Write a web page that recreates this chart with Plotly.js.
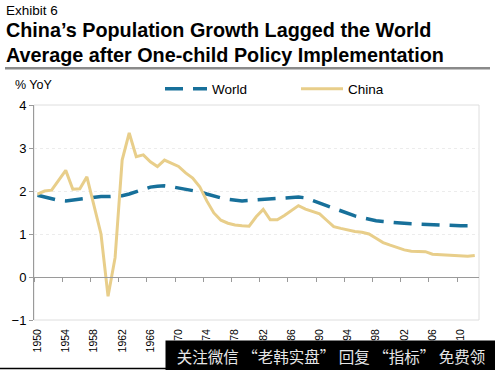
<!DOCTYPE html>
<html>
<head>
<meta charset="utf-8">
<script src="https://cdn.plot.ly/plotly-3.0.1.min.js"></script>
<style>
html,body{margin:0;padding:0;background:#fff;}
#chart{width:495px;height:370px;}
</style>
</head>
<body>
<div id="chart"></div>
<script>
var years = [1950,1951,1952,1953,1954,1955,1956,1957,1958,1959,
             1960,1961,1962,1963,1964,1965,1966,1967,1968,1969,
             1970,1971,1972,1973,1974,1975,1976,1977,1978,1979,
             1980,1981,1982,1983,1984,1985,1986,1987,1988,1989,
             1990,1991,1992,1993,1994,1995,1996,1997,1998,1999,
             2000,2001,2002,2003,2004,2005,2006,2007,2008,2009,
             2010,2011,2012];

var worldGrowth = [1.90,1.86,1.82,1.78,1.77,1.79,1.82,1.85,1.87,1.87,
                   1.87,1.88,1.89,1.93,1.99,2.04,2.09,2.11,2.12,2.10,
                   2.07,2.05,2.02,1.98,1.93,1.88,1.84,1.81,1.79,1.77,
                   1.78,1.79,1.80,1.81,1.82,1.84,1.86,1.86,1.84,1.78,
                   1.72,1.65,1.60,1.53,1.47,1.42,1.38,1.34,1.31,1.29,
                   1.27,1.26,1.25,1.24,1.23,1.22,1.22,1.21,1.21,1.20,
                   1.19,1.19,1.18];

var chinaGrowth = [1.93,2.00,2.02,2.25,2.48,2.04,2.05,2.33,1.70,1.00,
                   -0.45,0.45,2.72,3.35,2.80,2.84,2.68,2.57,2.72,2.64,
                   2.57,2.42,2.30,2.10,1.77,1.49,1.32,1.25,1.21,1.19,
                   1.18,1.40,1.57,1.33,1.33,1.43,1.55,1.66,1.58,1.52,
                   1.47,1.32,1.17,1.13,1.09,1.06,1.04,1.00,0.90,0.80,
                   0.74,0.68,0.63,0.60,0.59,0.59,0.53,0.52,0.51,0.49,
                   0.48,0.48,0.50];

var tickYears = [1950,1954,1958,1962,1966,1970,1974,1978,1982,1986,1990,1994,1998,2002,2006,2010];
var tickLabels = ['1950','1954','1958','1962','1966','1970','1974','1978','1982','1986','1990','1994','1998','2002','2006','2010'];
var seriesNames = ['World','China'];

var FONT = 'Liberation Sans, Arial, sans-serif';

var traces = [
  {
    x: years, y: worldGrowth, name: seriesNames[0], type: 'scatter', mode: 'lines',
    line: {color: '#17709A', width: 3.5, dash: '18px,10px'},
    legend: 'legend', hoverinfo: 'skip'
  },
  {
    x: years, y: chinaGrowth, name: seriesNames[1], type: 'scatter', mode: 'lines',
    line: {color: '#E8CE8A', width: 3},
    legend: 'legend2', hoverinfo: 'skip'
  },
  {
    x: years, y: years.map(function(){return null;}), xaxis: 'x2', yaxis: 'y',
    type: 'scatter', mode: 'lines', showlegend: false, hoverinfo: 'skip'
  }
];

// plot area in pixels: left 34, right 479, top 105, bottom 320
function px2x(p){ return (p - 34) / 445; }
function px2y(p){ return (320 - p) / 215; }

function legendBox(leftPx){
  return {
    orientation: 'h', x: px2x(leftPx), xanchor: 'left', y: px2y(89), yanchor: 'middle',
    font: {family: FONT, size: 13.5, color: '#000'},
    itemwidth: 42,
    bgcolor: 'rgba(0,0,0,0)', borderwidth: 0, itemclick: false
  };
}

var layout = {
  width: 495, height: 370,
  margin: {l: 34, r: 16, t: 105, b: 50, pad: 0},
  paper_bgcolor: '#ffffff', plot_bgcolor: '#ffffff',
  font: {family: FONT, size: 13, color: '#000'},
  showlegend: true,
  legend: legendBox(160),
  legend2: legendBox(296),
  xaxis: {
    range: [1949.5, 2012.6],
    tickmode: 'array', tickvals: tickYears, ticktext: tickLabels,
    tickangle: -90, ticks: '', ticklabelstandoff: 6,
    tickfont: {family: FONT, size: 10.5, color: '#000'},
    showgrid: false, zeroline: false, showline: false,
    fixedrange: true
  },
  xaxis2: {
    overlaying: 'x', matches: 'x', anchor: 'free', position: 0.2, side: 'bottom',
    range: [1949.5, 2012.6],
    tickmode: 'array', tickvals: tickYears.map(function(v){return v - 0.5;}),
    ticks: 'outside', ticklen: 4, tickcolor: '#9a9a9a', tickwidth: 1,
    showticklabels: false, showgrid: false, zeroline: false,
    showline: true, linecolor: '#9a9a9a', linewidth: 1
  },
  yaxis: {
    range: [-1, 4], dtick: 1, tick0: 0,
    ticks: 'outside', ticklen: 4, tickcolor: '#9a9a9a',
    tickfont: {family: FONT, size: 13, color: '#000'},
    showline: true, linecolor: '#9a9a9a', linewidth: 1,
    showgrid: true, gridcolor: '#ececec', griddash: 'dot', gridwidth: 1,
    zeroline: false, fixedrange: true
  },
  shapes: [
    {type: 'rect', xref: 'paper', yref: 'paper', x0: 0, x1: 1, y0: 0, y1: 1,
     line: {color: '#dedede', width: 1}, layer: 'below'},
    {type: 'line', xref: 'paper', yref: 'paper', x0: px2x(5), x1: px2x(490), y0: px2y(68.3), y1: px2y(68.3),
     line: {color: '#8a8a8a', width: 2.6}},
    {type: 'line', xref: 'paper', yref: 'paper', x0: px2x(0), x1: px2x(166), y0: px2y(368.5), y1: px2y(368.5),
     line: {color: '#000', width: 1.5}}
  ],
  annotations: [
    {text: 'Exhibit 6', xref: 'paper', yref: 'paper', x: px2x(4), y: px2y(10.3),
     xanchor: 'left', yanchor: 'middle', showarrow: false,
     font: {family: FONT, size: 13.5, color: '#000'}},
    {text: '<b>China\u2019s Population Growth Lagged the World</b>', xref: 'paper', yref: 'paper',
     x: px2x(4), y: px2y(30.3), xanchor: 'left', yanchor: 'middle', showarrow: false,
     font: {family: FONT, size: 19.8, color: '#000'}},
    {text: '<b>Average after One-child Policy Implementation</b>', xref: 'paper', yref: 'paper',
     x: px2x(4), y: px2y(55.3), xanchor: 'left', yanchor: 'middle', showarrow: false,
     font: {family: FONT, size: 19.8, color: '#000'}},
    {text: '% YoY', xref: 'paper', yref: 'paper', x: px2x(13), y: px2y(84.5),
     xanchor: 'left', yanchor: 'middle', showarrow: false,
     font: {family: FONT, size: 12.5, color: '#000'}},
    {text: '关注微信 “老韩实盘” 回复 “指标” 免费领', xref: 'paper', yref: 'paper',
     x: px2x(165), y: px2y(340), xanchor: 'left', yanchor: 'top', showarrow: false,
     width: 330, height: 30, align: 'center', valign: 'middle', borderpad: 0,
     bgcolor: '#000000',
     font: {family: 'Noto Sans CJK SC, sans-serif', size: 15.5, color: '#e6e6e6'}}
  ]
};

Plotly.newPlot('chart', traces, layout, {staticPlot: true, displayModeBar: false});
</script>
</body>
</html>
